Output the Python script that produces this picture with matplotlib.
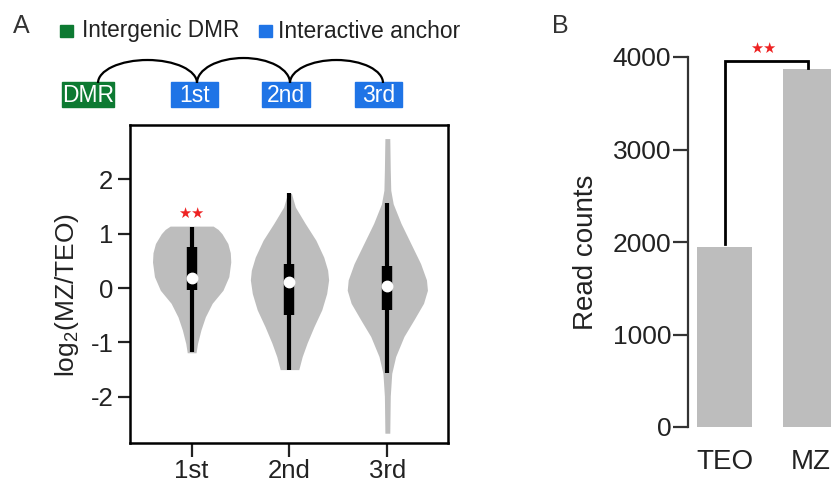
import matplotlib.pyplot as plt
from matplotlib.patches import Rectangle, Arc

plt.rcParams['font.family'] = ['Liberation Sans', 'DejaVu Sans']
plt.rcParams['mathtext.fontset'] = 'custom'
plt.rcParams['mathtext.rm'] = 'Liberation Sans'
plt.rcParams['axes.unicode_minus'] = False

# ---- panel A data: violin outlines (value, half width)
anchors = ['1st', '2nd', '3rd']
v1_y = [1.14, 1.08, 1.00, 0.82, 0.65, 0.48, 0.21, -0.04, -0.28, -0.53, -0.77, -1.02, -1.19]
v1_w = [0.22, 0.27, 0.31, 0.37, 0.395, 0.40, 0.38, 0.32, 0.21, 0.14, 0.095, 0.06, 0.045]
v2_y = [1.74, 1.49, 1.19, 0.88, 0.57, 0.33, 0.15, -0.10, -0.40, -0.71, -1.01, -1.26, -1.50]
v2_w = [0.02, 0.06, 0.16, 0.27, 0.35, 0.39, 0.40, 0.38, 0.33, 0.25, 0.18, 0.13, 0.095]
v3_y = [2.75, 2.17, 1.80, 1.55, 1.19, 0.82, 0.45, 0.15, -0.04, -0.28, -0.59, -0.89, -1.26, -1.57, -1.99, -2.67]
v3_w = [0.025, 0.03, 0.035, 0.06, 0.14, 0.24, 0.34, 0.40, 0.41, 0.37, 0.27, 0.17, 0.085, 0.045, 0.03, 0.025]
whisk_hi = [1.12, 1.74, 1.57]
whisk_lo = [-1.17, -1.50, -1.57]
q1 = [-0.04, -0.50, -0.40]
q3 = [0.75, 0.44, 0.40]
medians = [0.18, 0.12, 0.04]

# ---- panel B data
groups = ['TEO', 'MZ']
counts = [1950, 3870]

fig = plt.figure(figsize=(8.31, 4.84), dpi=100)

# overlay in pixel coords for the legend / schematic
ov = fig.add_axes([0, 0, 1, 1], zorder=0)
ov.set_xlim(0, 831)
ov.set_ylim(484, 0)
ov.axis('off')

green = '#0d7a32'
blue = '#1f74e6'
star_red = '#ee2222'
ov.text(13, 33, 'A', fontsize=18, color='#333333')
ov.text(552, 33, 'B', fontsize=18, color='#333333')
ov.add_patch(Rectangle((60, 25), 13, 12, color=green))
ov.text(82, 37.5, 'Intergenic DMR', fontsize=16.3, color='#222222')
ov.add_patch(Rectangle((259, 25), 13, 12, color=blue))
ov.text(278, 37.5, 'Interactive anchor', fontsize=16.5, color='#222222')

boxes = [('DMR', 62, 114, green), ('1st', 171, 218, blue),
         ('2nd', 262, 310, blue), ('3rd', 355, 402, blue)]
for lab, x0, x1, c in boxes:
    ov.add_patch(Rectangle((x0, 82), x1 - x0, 25, color=c))
    ov.text((x0 + x1) / 2, 102, lab, fontsize=16.5, color='white',
            ha='center', va='baseline')
for xa, xb, peak in [(98, 197, 60), (197, 290, 58), (290, 383, 60)]:
    ov.add_patch(Arc(((xa + xb) / 2, 83), xb - xa, 2 * (83 - peak),
                     theta1=180, theta2=360, lw=1.6, color='black'))

# ---- panel A
ax = fig.add_axes([130 / 831, 41 / 484, 318 / 831, 318 / 484], zorder=1)
ax.patch.set_alpha(0)
profiles = [(v1_y, v1_w), (v2_y, v2_w), (v3_y, v3_w)]
for i, (ys, ws) in enumerate(profiles):
    pos = i + 1
    ax.fill_betweenx(ys, [pos - w for w in ws], [pos + w for w in ws],
                     color='#bdbdbd', lw=0, zorder=1)
    ax.vlines(pos, whisk_lo[i], whisk_hi[i], color='black', lw=3,
              capstyle='butt', zorder=2)
    ax.vlines(pos, q1[i], q3[i], color='black', lw=7.5,
              capstyle='butt', zorder=3)
    ax.plot(pos, medians[i], 'o', color='white', ms=7.5, mec='white', zorder=4)
ax.text(1, 1.38, '★★', color=star_red, fontsize=10.5, ha='center', va='center',
        family='DejaVu Sans')
ax.set_xlim(0.37, 3.62)
ax.set_ylim(-2.85, 3.0)
ax.set_xticks([1, 2, 3])
ax.set_xticklabels(anchors)
ax.set_yticks([-2, -1, 0, 1, 2])
ax.tick_params(labelsize=18.5, width=1.6, length=9, pad=3, colors='#222222')
ax.tick_params(axis='x', length=10, pad=1.5)
for s in ax.spines.values():
    s.set_linewidth(1.8)
ax.set_ylabel(r'log$_\mathregular{2}$(MZ/TEO)', fontsize=19, color='#222222')
ax.yaxis.set_label_coords(-0.154, 0.465)

# ---- panel B
bx = fig.add_axes([688 / 831, 57 / 484, 159 / 831, 397.75 / 484], zorder=1)
bx.patch.set_alpha(0)
xs = list(range(len(groups)))
bx.bar(xs, counts, width=0.64, color='#bdbdbd')
bx.set_xlim(-0.425, 1.425)
bx.set_ylim(0, 4300)
bx.set_yticks([0, 1000, 2000, 3000, 4000])
bx.set_xticks(xs)
bx.set_xticklabels(groups)
for s in ['top', 'right', 'bottom']:
    bx.spines[s].set_visible(False)
bx.spines['left'].set_bounds(0, 4000)
bx.spines['left'].set_linewidth(1.6)
bx.spines['left'].set_color('#333333')
bx.tick_params(axis='y', labelsize=19, width=1.6, length=11, pad=1,
               colors='#333333', labelcolor='#222222')
bx.tick_params(axis='x', labelsize=20, length=0, pad=16, labelcolor='#222222')
bx.plot([0, 0, 0.97, 0.97], [1980, 3962, 3962, 3880], color='black', lw=2,
        solid_joinstyle='miter')
bx.text(0.45, 4097, '★★', color=star_red, fontsize=10.5, ha='center', va='center',
        family='DejaVu Sans')
bx.set_ylabel('Read counts', fontsize=20, color='#222222')
bx.yaxis.set_label_coords(-0.56, 0.44)

fig.savefig('out.png', dpi=100)
